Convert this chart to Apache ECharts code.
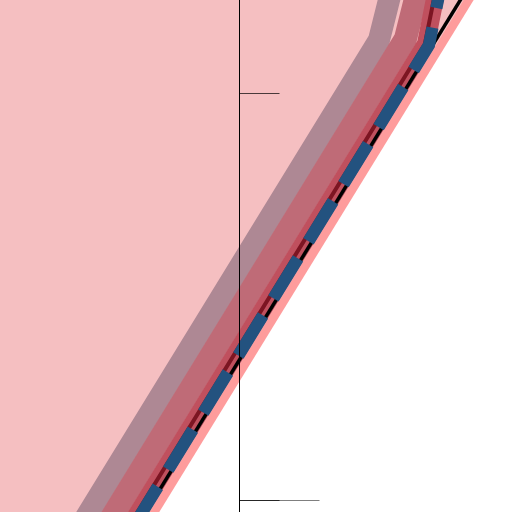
<!DOCTYPE html>
<html>
<head>
<meta charset="utf-8">
<script src="https://cdn.jsdelivr.net/npm/echarts@6/dist/echarts.min.js"></script>
<style>html,body{margin:0;padding:0;background:#fff}#c{width:512px;height:512px}</style>
</head>
<body>
<div id="c"></div>
<script>
// y-axis tick values (short dark ticks) and the long light tick
const yTickValues = [0, 1];
const longTickValues = [0];
// visible value ranges of the crop
const xRange = [-0.588452, 0.669533];
const yRange = [-0.028256, 1.229730];
// series, as [x, y] value pairs
const frontierEdge = [[-0.6376, -0.7258], [0.6536, 1.3771]];
const mauveBand = [[-0.4418, -0.1462], [0.3428, 1.1314], [0.4042, 1.3771]];
const roseBand = [[-0.3784, -0.1462], [0.4076, 1.1339], [0.4686, 1.3771]];
const redBand = [[-0.3206, -0.1462], [0.4580, 1.1216], [0.5091, 1.3771]];
const darkRedLine = [[-0.3231, -0.1462], [0.4555, 1.1216], [0.5066, 1.3771]];
const blackLine = [[-0.3022, -0.1462], [0.6332, 1.3771]];
const blueLine = [[-0.3113, -0.1462], [0.4656, 1.1192], [0.5172, 1.3771]];

const chart = echarts.init(document.getElementById('c'), null, {renderer: 'canvas'});
function lineSeries(data, color, width, extra) {
  return Object.assign({
    type: 'line', data: data, xAxisIndex: 0, yAxisIndex: 0,
    symbol: 'none', clip: false, silent: true, animation: false,
    lineStyle: {color: color, width: width, cap: 'butt', join: 'miter'}
  }, extra || {});
}
const option = {
  animation: false,
  grid: {left: 0, top: 0, right: 0, bottom: 0, outerBoundsMode: 'none'},
  xAxis: [
    {type: 'value', min: xRange[0], max: xRange[1], show: false},
    {type: 'value', min: xRange[0], max: xRange[1], show: false}
  ],
  yAxis: [
    {type: 'value', min: yRange[0], max: yRange[1], position: 'left', z: 10,
     axisLine: {show: false, onZero: true, onZeroAxisIndex: 0},
     splitLine: {show: false}, axisLabel: {show: false},
     axisTick: {show: true, inside: true, length: 80, customValues: longTickValues,
                lineStyle: {color: 'rgba(0,0,0,0.5)', width: 1}}},
    {type: 'value', min: yRange[0], max: yRange[1], position: 'left', z: 11,
     axisLine: {show: true, onZero: true, onZeroAxisIndex: 1, lineStyle: {color: '#000', width: 1}},
     splitLine: {show: false}, axisLabel: {show: false},
     axisTick: {show: true, inside: true, length: 40, customValues: yTickValues,
                lineStyle: {color: 'rgba(0,0,0,0.7)', width: 1}}}
  ],
  series: [
    lineSeries(frontierEdge, '#fe9c9c', 8.5, {areaStyle: {color: '#f5bfc1', opacity: 1, origin: 'end'}}),
    lineSeries(mauveBand, '#ae8894', 22),
    lineSeries(roseBand, '#bf6b77', 23),
    lineSeries(redBand, '#c0505e', 17.9),
    lineSeries(darkRedLine, '#7c1522', 4),
    lineSeries(blackLine, '#000000', 3.5),
    lineSeries(blueLine, '#23527f', 12.2, {lineStyle: {color: '#23527f', width: 12.2, type: [47, 20], dashOffset: 28, cap: 'butt', join: 'miter'}})
  ]
};
chart.setOption(option);
</script>
</body>
</html>
